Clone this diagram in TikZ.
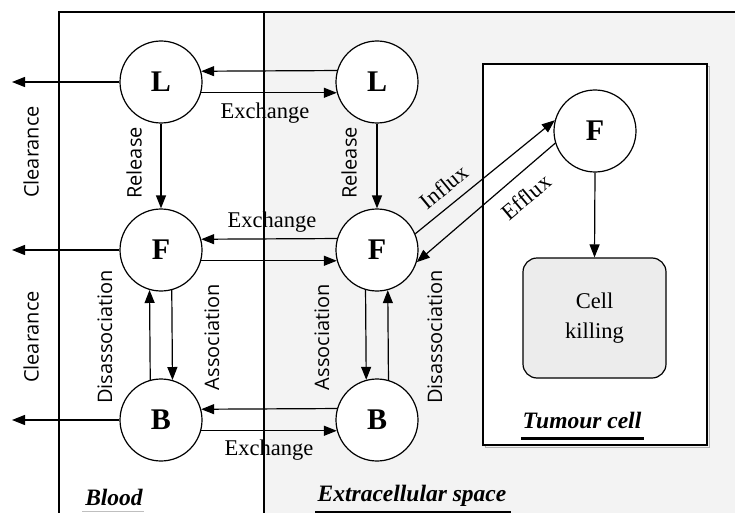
\documentclass[tikz,border=0pt]{standalone}
\usepackage{fontspec}
\setmainfont{Liberation Serif}
\newfontfamily\lblsans{Open Sans}
\usetikzlibrary{arrows.meta}
\definecolor{extbg}{RGB}{243,243,243}
\definecolor{killbg}{RGB}{236,236,236}
\begin{document}
\begin{tikzpicture}[x=1pt,y=-1pt, line width=1.2pt,
  state/.style={circle, draw, fill=white, minimum size=82pt, inner sep=0pt, font=\fontsize{30}{34}\selectfont\bfseries},
  arr/.style={-{Triangle[length=13pt,width=10pt]}},
  lab/.style={font=\fontsize{22.5}{26}\selectfont, inner sep=0pt},
  vlab/.style={font=\lblsans\fontsize{20}{24}\selectfont, rotate=90, inner sep=0pt},
  region/.style={font=\fontsize{23.5}{26}\selectfont\bfseries\itshape, inner sep=0pt}]
\clip (0,0) rectangle (735,513);
% regions
\fill[extbg] (264,12) rectangle (745,525);
\draw (59,525) -- (59,12) -- (745,12);
\draw (264,12) -- (264,525);
\draw[gray!60, line width=1.2pt] (485.5,66.5) rectangle (709.5,447.5);
\draw[fill=white] (483,64) rectangle (707,445);
% states
\node[state] (Lb) at (161,82) {L};
\node[state] (Le) at (377,82) {L};
\node[state] (Fb) at (161,250) {F};
\node[state] (Fe) at (377,250) {F};
\node[state] (Bb) at (161,420) {B};
\node[state] (Be) at (377,420) {B};
\node[state] (Ft) at (595,131) {F};
\node[draw, fill=killbg, rounded corners=14pt, minimum width=143pt, minimum height=120pt, align=center, font=\fontsize{22.5}{30}\selectfont] (ck) at (594.5,318) {Cell\\killing};
% clearance
\coordinate (cL) at (12,82);
\coordinate (cF) at (12,250);
\coordinate (cB) at (12,420);
\draw[arr] (Lb.west) -- (cL);
\draw[arr] (Fb.west) -- (cF);
\draw[arr] (Bb.west) -- (cB);
% exchange
\draw[arr] (Le.164.4) -- (Lb.15.6);
\draw[arr] (Lb.-15.6) -- (Le.195.6);
\draw[arr] (Fe.164.4) -- (Fb.15.6);
\draw[arr] (Fb.-15.6) -- (Fe.195.6);
\draw[arr] (Be.164.4) -- (Bb.15.6);
\draw[arr] (Bb.-15.6) -- (Be.195.6);
% release
\draw[arr] (Lb.south) -- (Fb.north);
\draw[arr] (Le.south) -- (Fe.north);
% association / disassociation
\draw[arr] (Fb.285.6) -- (Bb.74.4);
\draw[arr] (Bb.105.6) -- (Fb.254.4);
\draw[arr] (Fe.254.4) -- (Be.105.6);
\draw[arr] (Be.74.4) -- (Fe.285.6);
% influx / efflux
\draw[arr] (Fe.23) -- (Ft.165);
\draw[arr] (Ft.197) -- (Fe.343);
\draw[arr] (Ft.south) -- (ck.north);
% labels
\node[vlab] (tc1) at (31,152) {Clearance};
\node[vlab] (tc2) at (31,337) {Clearance};
\node[vlab] (tr1) at (134,163) {Release};
\node[vlab] (tr2) at (349,163) {Release};
\node[vlab] (td1) at (105,337) {Disassociation};
\node[vlab] (ta1) at (212,337) {Association};
\node[vlab] (ta2) at (322,337) {Association};
\node[vlab] (td2) at (435,337) {Disassociation};
\node[lab] (te1) at (265,113) {Exchange};
\node[lab] (te2) at (272,222) {Exchange};
\node[lab] (te3) at (269,450) {Exchange};
\node[lab, rotate=39.5] (ti) at (444,187) {Influx};
\node[lab, rotate=40] (tf) at (526,197) {Efflux};
% region titles
\node[region] (rb) at (114,497) {Blood};
\node[region] (re) at (412,496) {Extracellular space};
\node[region] (rt) at (582,420) {Tumour cell};
\draw[gray!50, line width=1.5pt] (82,511.5) -- (144,511.5);
\draw[line width=1.2pt] (315,512) -- (511,512);
\draw[line width=3pt] (521,438) -- (644,438);
\end{tikzpicture}
\end{document}
